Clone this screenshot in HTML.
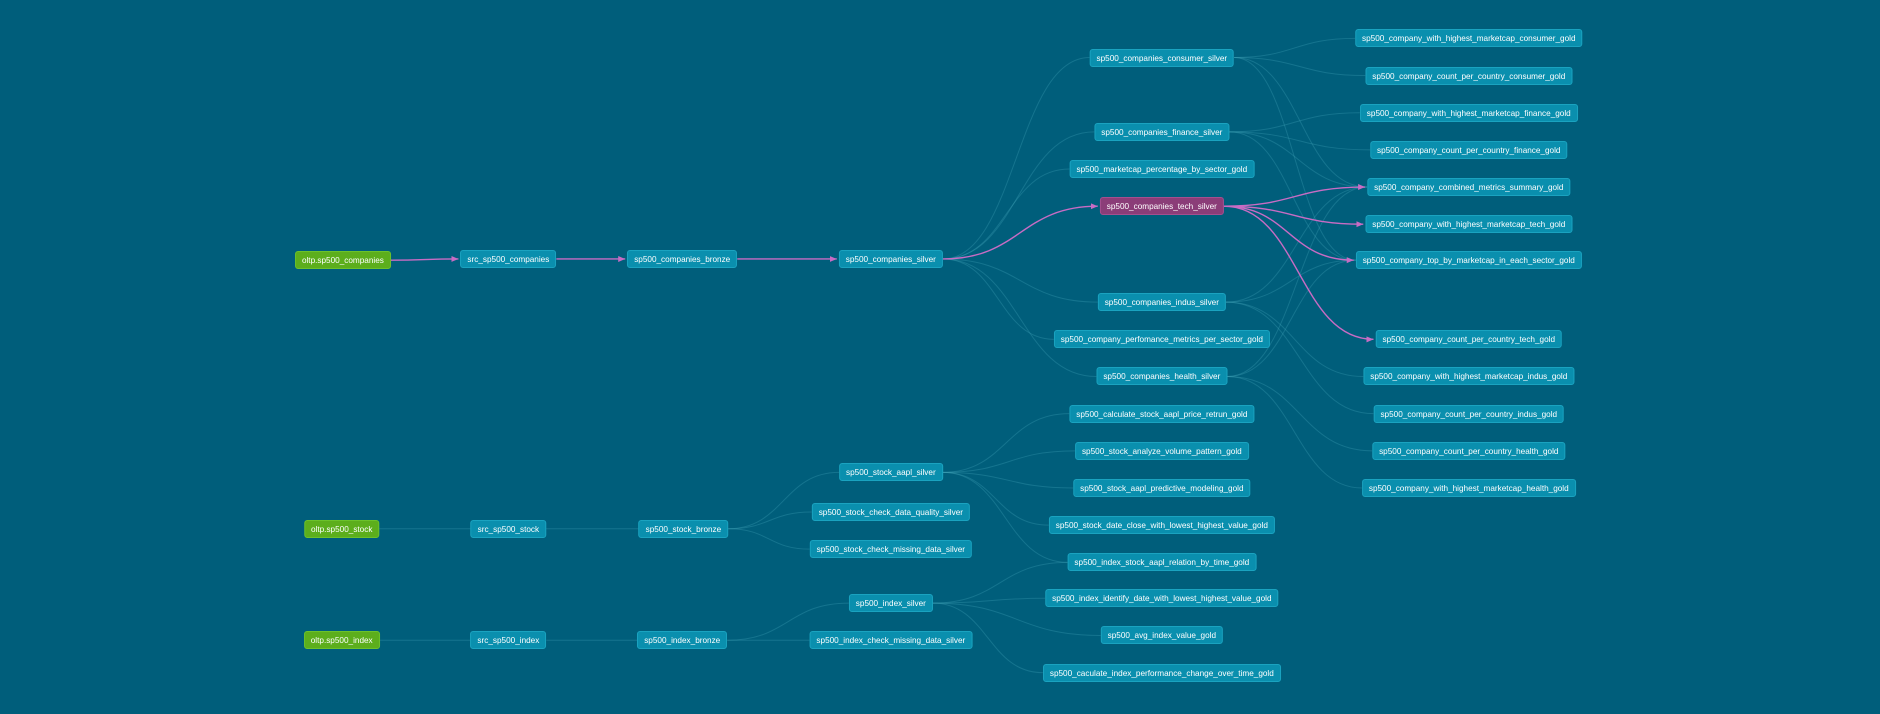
<!DOCTYPE html>
<html><head><meta charset="utf-8"><style>
html,body{margin:0;padding:0;}
body{width:1880px;height:714px;background:#005e7b;position:relative;overflow:hidden;font-family:"Liberation Sans",sans-serif;}
svg{position:absolute;left:0;top:0;}
.n{position:absolute;height:18px;line-height:18px;padding:0 6px;font-size:8.2px;color:#fff;background:#0a8fae;border:1px solid #1aa3c0;border-radius:3px;white-space:nowrap;transform:translate(-50%,-50%);box-sizing:border-box;}
.g{background:#5cae1c;border-color:#6cc22a;}
.p{background:#8b3d78;border-color:#a44f8f;}
</style></head><body>
<svg id="edges" width="1880" height="714"></svg>
<script>
const S=1.199;
const nodes=[
["oltp.sp500_companies",286,217,"g"],["oltp.sp500_stock",285,441,"g"],["oltp.sp500_index",285,534,"g"],
["src_sp500_companies",424,216],["src_sp500_stock",424,441],["src_sp500_index",424,534],
["sp500_companies_bronze",569,216],["sp500_stock_bronze",570,441],["sp500_index_bronze",569,534],
["sp500_companies_silver",743,216],["sp500_stock_aapl_silver",743,394],["sp500_stock_check_data_quality_silver",743,427],["sp500_stock_check_missing_data_silver",743,458],["sp500_index_silver",743,503],["sp500_index_check_missing_data_silver",743,534],
["sp500_companies_consumer_silver",969,48],["sp500_companies_finance_silver",969,110],["sp500_marketcap_percentage_by_sector_gold",969,141],["sp500_companies_tech_silver",969,172,"p"],["sp500_companies_indus_silver",969,252],["sp500_company_perfomance_metrics_per_sector_gold",969,283],["sp500_companies_health_silver",969,314],["sp500_calculate_stock_aapl_price_retrun_gold",969,345],["sp500_stock_analyze_volume_pattern_gold",969,376],["sp500_stock_aapl_predictive_modeling_gold",969,407],["sp500_stock_date_close_with_lowest_highest_value_gold",969,438],["sp500_index_stock_aapl_relation_by_time_gold",969,469],["sp500_index_identify_date_with_lowest_highest_value_gold",969,499],["sp500_avg_index_value_gold",969,530],["sp500_caculate_index_performance_change_over_time_gold",969,561],
["sp500_company_with_highest_marketcap_consumer_gold",1225,32],["sp500_company_count_per_country_consumer_gold",1225,63],["sp500_company_with_highest_marketcap_finance_gold",1225,94],["sp500_company_count_per_country_finance_gold",1225,125],["sp500_company_combined_metrics_summary_gold",1225,156],["sp500_company_with_highest_marketcap_tech_gold",1225,187],["sp500_company_top_by_marketcap_in_each_sector_gold",1225,217],["sp500_company_count_per_country_tech_gold",1225,283],["sp500_company_with_highest_marketcap_indus_gold",1225,314],["sp500_company_count_per_country_indus_gold",1225,345],["sp500_company_count_per_country_health_gold",1225,376],["sp500_company_with_highest_marketcap_health_gold",1225,407]
];
const C="sp500_company_";
const edges=[
["oltp.sp500_companies","src_sp500_companies",1],["src_sp500_companies","sp500_companies_bronze",1],["sp500_companies_bronze","sp500_companies_silver",1],
["oltp.sp500_stock","src_sp500_stock"],["src_sp500_stock","sp500_stock_bronze"],["oltp.sp500_index","src_sp500_index"],["src_sp500_index","sp500_index_bronze"],
["sp500_companies_silver","sp500_companies_tech_silver",1]
];
["consumer","finance","indus","health"].forEach(s=>edges.push(["sp500_companies_silver","sp500_companies_"+s+"_silver"]));
edges.push(["sp500_companies_silver","sp500_marketcap_percentage_by_sector_gold"],["sp500_companies_silver","sp500_company_perfomance_metrics_per_sector_gold"]);
["consumer","finance","indus","health"].forEach(s=>{const src="sp500_companies_"+s+"_silver";
 edges.push([src,C+"with_highest_marketcap_"+s+"_gold"],[src,C+"count_per_country_"+s+"_gold"],[src,C+"combined_metrics_summary_gold"],[src,C+"top_by_marketcap_in_each_sector_gold"]);});
["with_highest_marketcap_tech_gold","count_per_country_tech_gold","combined_metrics_summary_gold","top_by_marketcap_in_each_sector_gold"].forEach(t=>edges.push(["sp500_companies_tech_silver",C+t,1]));
["sp500_stock_aapl_silver","sp500_stock_check_data_quality_silver","sp500_stock_check_missing_data_silver"].forEach(t=>edges.push(["sp500_stock_bronze",t]));
["sp500_calculate_stock_aapl_price_retrun_gold","sp500_stock_analyze_volume_pattern_gold","sp500_stock_aapl_predictive_modeling_gold","sp500_stock_date_close_with_lowest_highest_value_gold","sp500_index_stock_aapl_relation_by_time_gold"].forEach(t=>edges.push(["sp500_stock_aapl_silver",t]));
["sp500_index_silver","sp500_index_check_missing_data_silver"].forEach(t=>edges.push(["sp500_index_bronze",t]));
["sp500_index_stock_aapl_relation_by_time_gold","sp500_index_identify_date_with_lowest_highest_value_gold","sp500_avg_index_value_gold","sp500_caculate_index_performance_change_over_time_gold"].forEach(t=>edges.push(["sp500_index_silver",t]));
const box={};
nodes.forEach(n=>{const d=document.createElement('div');d.className='n '+(n[3]||'');d.textContent=n[0];
d.style.left=(n[1]*S)+'px';d.style.top=(n[2]*S)+'px';


document.body.appendChild(d);box[n[0]]=d;});
const svg=document.getElementById('edges'),NS="http://www.w3.org/2000/svg";
svg.innerHTML='<defs><marker id="ah" markerWidth="8" markerHeight="8" refX="7" refY="4" orient="auto" markerUnits="userSpaceOnUse"><path d="M0,1 L7,4 L0,7 z" fill="#c86cc4"/></marker></defs>';
const hl=[],nm=[];
edges.forEach(e=>{const a=box[e[0]].getBoundingClientRect(),b=box[e[1]].getBoundingClientRect();
const x1=a.right,y1=(a.top+a.bottom)/2,x2=b.left-(e[2]?2:0),y2=(b.top+b.bottom)/2,m=(x2-x1)/2;
const p=document.createElementNS(NS,'path');
p.setAttribute('d',`M${x1},${y1} C${x1+m},${y1} ${x2-m},${y2} ${x2},${y2}`);
p.setAttribute('fill','none');
if(e[2]){p.setAttribute('stroke','#c86cc4');p.setAttribute('stroke-width','1.4');p.setAttribute('marker-end','url(#ah)');}
else{p.setAttribute('stroke','rgba(70,170,190,0.3)');p.setAttribute('stroke-width','1');}


(e[2]?hl:nm).push(p);});
nm.concat(hl).forEach(p=>svg.appendChild(p));
</script>
</body></html>
